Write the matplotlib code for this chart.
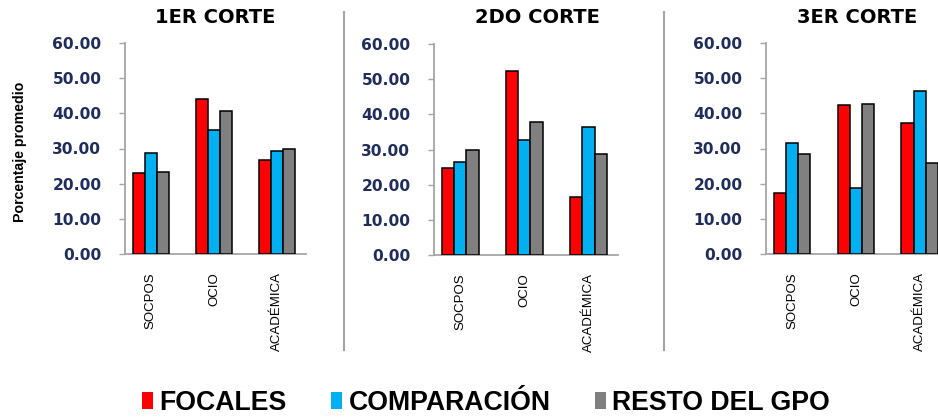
import matplotlib
matplotlib.use('Agg')
import matplotlib.pyplot as plt
from matplotlib.patches import Patch
from matplotlib.lines import Line2D
import numpy as np

# average percentage per activity type, one list per cut and group
categorias = ['SOCPOS', 'OCIO', 'ACADÉMICA']
cortes = ['1ER CORTE', '2DO CORTE', '3ER CORTE']
series = ['FOCALES', 'COMPARACIÓN', 'RESTO DEL GPO']

focales_1 = [23.0, 44.2, 26.6]
comparacion_1 = [28.6, 35.3, 29.3]
resto_1 = [23.3, 40.6, 29.9]

focales_2 = [24.6, 52.3, 16.6]
comparacion_2 = [26.5, 32.6, 36.3]
resto_2 = [29.9, 37.9, 28.6]

focales_3 = [17.3, 42.3, 37.3]
comparacion_3 = [31.6, 18.9, 46.4]
resto_3 = [28.3, 42.7, 25.8]

yticks = [0, 10, 20, 30, 40, 50, 60]

colores = ['#FF0000', '#00B0F0', '#808080']
tick_color = '#1F2D5A'
axis_gray = '#A6A6A6'

datos = [
    [focales_1, comparacion_1, resto_1],
    [focales_2, comparacion_2, resto_2],
    [focales_3, comparacion_3, resto_3],
]

W, H = 938, 417
fig = plt.figure(figsize=(W / 100, H / 100), dpi=100)

# panel boxes in pixels: left, top(60), right, bottom(0)
paneles = [(125, 43, 306, 254), (434, 44, 618, 255), (766, 43, 949, 254)]
titulo_x = [215, 537, 857]

for k, (box, valores) in enumerate(zip(paneles, datos)):
    l, t, r, b = box
    ax = fig.add_axes([l / W, (H - b) / H, (r - l) / W, (b - t) / H])
    x = np.arange(len(categorias))
    ancho = 0.19
    for j, vals in enumerate(valores):
        ax.bar(x + (j - 1) * ancho, vals, ancho, color=colores[j],
               edgecolor='black', linewidth=1.1, zorder=3)
    ax.set_xlim(-0.41, 2.46)
    ax.set_ylim(0, 60)
    ax.set_yticks(yticks)
    ax.set_yticklabels(['%.2f' % v for v in yticks], fontsize=11.2,
                       fontweight='bold', color=tick_color, family='DejaVu Sans')
    ax.set_xticks(x)
    ax.set_xticklabels(categorias, rotation=90, fontsize=9.5, family='Liberation Sans',
                       va='top', ha='center')
    ax.tick_params(axis='x', length=0, pad=13)
    ax.tick_params(axis='y', length=4, width=1, color=axis_gray, pad=13)
    for s in ['top', 'right']:
        ax.spines[s].set_visible(False)
    for s in ['left', 'bottom']:
        ax.spines[s].set_color(axis_gray)
        ax.spines[s].set_linewidth(1.3)
    ax.set_facecolor('none')
    fig.text(titulo_x[k] / W, (H - 17.5) / H, cortes[k], ha='center', va='center',
             fontsize=14, fontweight='bold', family='DejaVu Sans')

fig.text(20 / W, (H - 152) / H, 'Porcentaje promedio', rotation=90,
         ha='center', va='center', fontsize=10.2, fontweight='bold',
         family='Liberation Sans')

# separators between the three panels
for xs in [344, 664]:
    fig.add_artist(Line2D([xs / W, xs / W], [(H - 12) / H, (H - 350) / H],
                          color=axis_gray, linewidth=1.5))

handles = [Patch(facecolor=c, edgecolor='none') for c in colores]
fig.legend(handles, series, loc='center', bbox_to_anchor=(0.518, 0.034), ncol=3,
           frameon=False, prop={'family': 'Liberation Sans', 'weight': 'bold', 'size': 19.2},
           handlelength=0.42, handleheight=0.6, handletextpad=0.25, columnspacing=1.65,
           borderpad=0)

fig.savefig('out.png', dpi=100)
